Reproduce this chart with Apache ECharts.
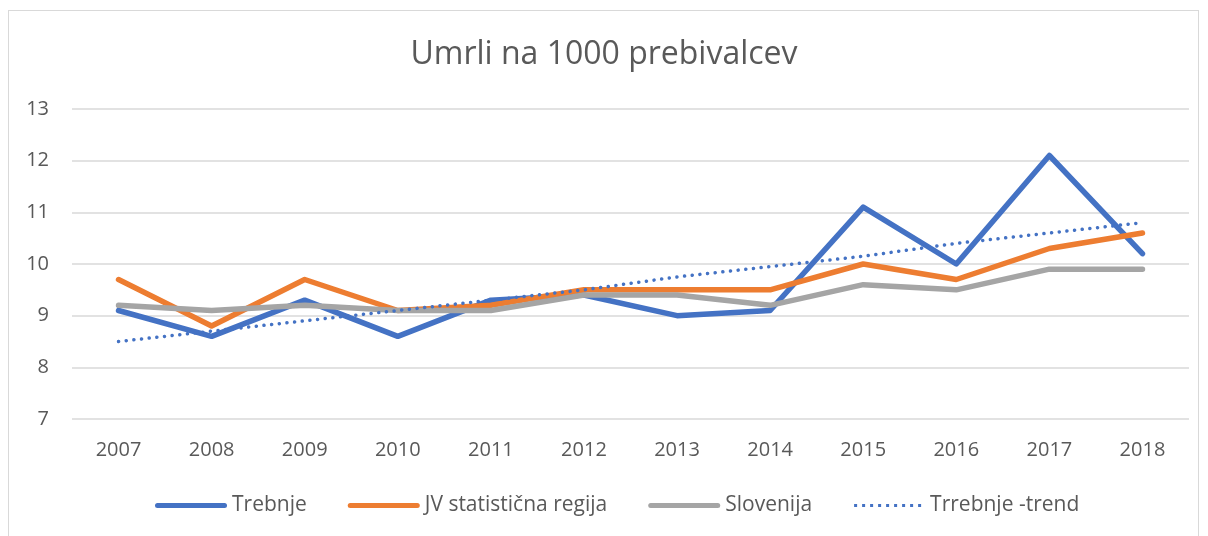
<!DOCTYPE html>
<html>
<head>
<meta charset="utf-8">
<script src="https://cdn.jsdelivr.net/npm/echarts@6/dist/echarts.min.js"></script>
<style>
  html, body { margin: 0; padding: 0; background: #fff; }
  #frame { position: absolute; left: 8px; top: 10px; width: 1191px; height: 540px; border: 1px solid #d9d9d9; box-sizing: border-box; }
  #myChart { position: absolute; left: 0; top: 0; width: 1208px; height: 536px; }
</style>
</head>
<body>
<div id="frame"></div>
<div id="myChart"></div>
<script>
// leta
const years = ['2007', '2008', '2009', '2010', '2011', '2012', '2013', '2014', '2015', '2016', '2017', '2018'];
// umrli na 1000 prebivalcev
const trebnje = [9.1, 8.6, 9.3, 8.6, 9.3, 9.4, 9.0, 9.1, 11.1, 10.0, 12.1, 10.2];
const jvRegija = [9.7, 8.8, 9.7, 9.1, 9.2, 9.5, 9.5, 9.5, 10.0, 9.7, 10.3, 10.6];
const slovenija = [9.2, 9.1, 9.2, 9.1, 9.1, 9.4, 9.4, 9.2, 9.6, 9.5, 9.9, 9.9];
// trend, odčitan s slike
const trebnjeTrend = [8.5, 8.7, 8.9, 9.1, 9.3, 9.5, 9.75, 9.95, 10.15, 10.4, 10.6, 10.8];

const font = 'Open Sans, Noto Sans, sans-serif';
// ikone legende: polna crta z zaobljenimi konci, pikčasta crta
const solidIcon = 'path://M2.5,0 H69.5 A2.5,2.5 0 0 1 69.5,5 H2.5 A2.5,2.5 0 0 1 2.5,0 Z';
let dots = '';
for (let i = 0; i < 9; i++) {
  let x = 1 + i * 8;
  dots += 'M' + x + ',1 h3 v3 h-3 Z ';
}
const dottedIcon = 'path://M0,0 h0.01 v0.01 h-0.01 Z M71.99,4.99 h0.01 v0.01 h-0.01 Z ' + dots;

let myChart = echarts.init(document.getElementById('myChart'));

function lineSeries(name, data, color, width, type) {
  return {
    name: name,
    type: 'line',
    data: data,
    symbol: 'none',
    showSymbol: false,
    lineStyle: { color: color, width: width, type: type || 'solid', cap: 'round', join: 'round' },
    itemStyle: { color: color },
    emphasis: { disabled: true }
  };
}

let option = {
  animation: false,
  title: {
    text: 'Umrli na 1000 prebivalcev',
    left: 'center',
    top: 34,
    textStyle: { fontFamily: font, fontSize: 32, fontWeight: 'normal', color: '#595959' }
  },
  legend: {
    bottom: 15,
    left: 150,
    itemWidth: 72,
    itemHeight: 5,
    itemGap: 41,
    textStyle: { fontFamily: font, fontSize: 21, color: '#595959' },
    data: [
      { name: 'Trebnje', icon: solidIcon },
      { name: 'JV statistična regija', icon: solidIcon },
      { name: 'Slovenija', icon: solidIcon },
      { name: 'Trrebnje -trend', icon: dottedIcon }
    ]
  },
  grid: { left: 72, right: 19, top: 109, bottom: 117 },
  xAxis: {
    type: 'category',
    data: years,
    boundaryGap: true,
    axisLine: { show: false },
    axisTick: { show: false },
    axisLabel: { fontFamily: font, fontSize: 20, color: '#595959', margin: 21 }
  },
  yAxis: {
    type: 'value',
    min: 7,
    max: 13,
    interval: 1,
    axisLine: { show: false },
    axisTick: { show: false },
    axisLabel: { fontFamily: font, fontSize: 20, color: '#595959', margin: 23 },
    splitLine: { lineStyle: { color: '#d9d9d9', width: 1.5 } }
  },
  series: [
    lineSeries('Trebnje', trebnje, '#4472c4', 5.5),
    lineSeries('JV statistična regija', jvRegija, '#ed7d31', 5.5),
    lineSeries('Slovenija', slovenija, '#a5a5a5', 5.5),
    lineSeries('Trrebnje -trend', trebnjeTrend, '#4472c4', 3.5, [0.1, 7.6])
  ]
};
myChart.setOption(option);
</script>
</body>
</html>
